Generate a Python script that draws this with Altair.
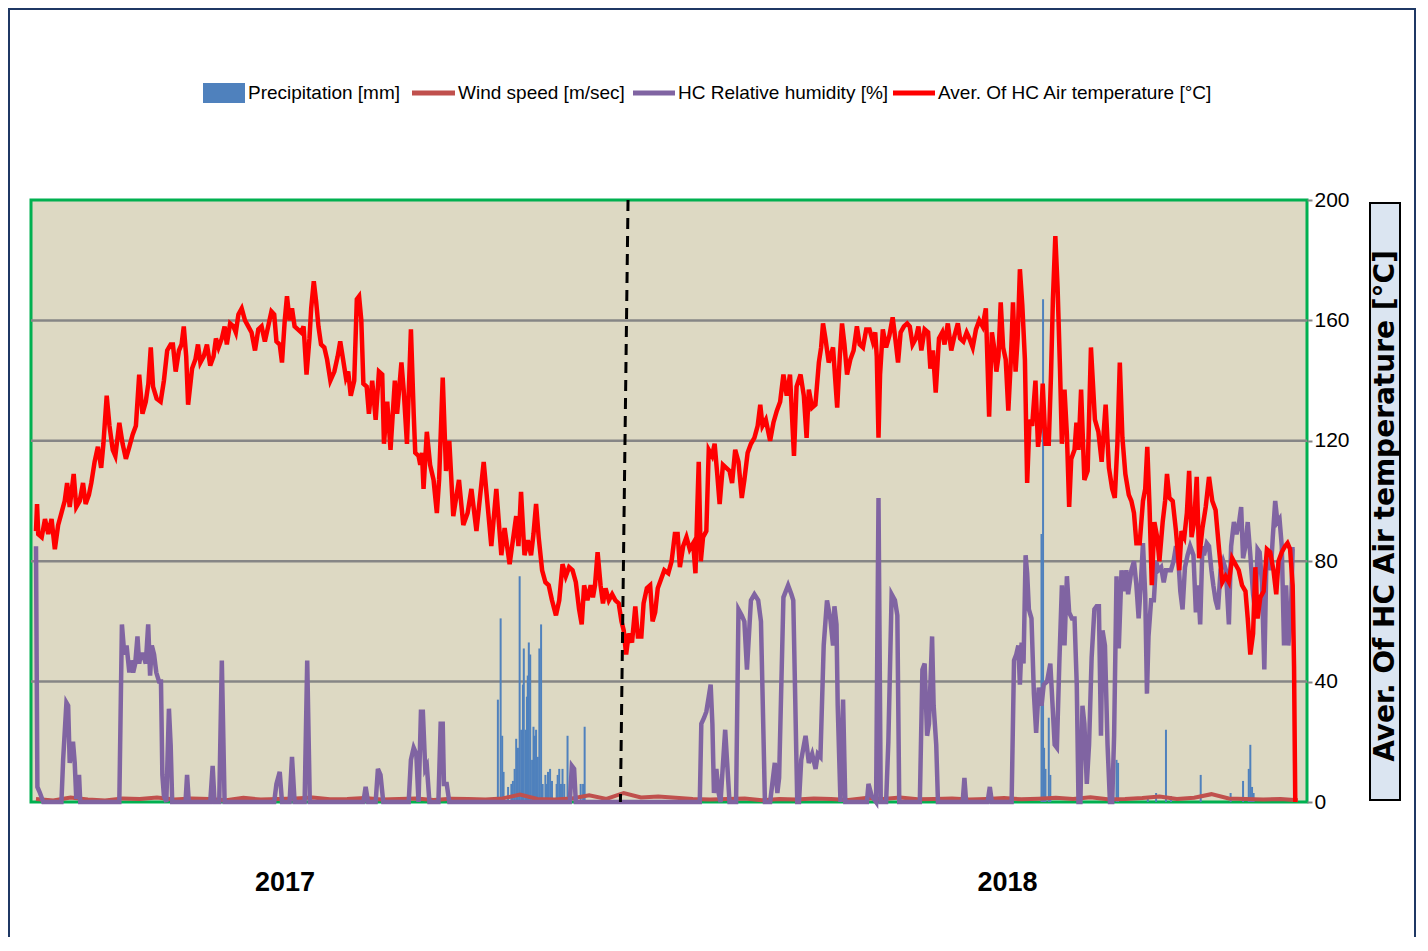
import altair as alt
import pandas as pd

# ---------------- data (day index 0..730) ----------------
temp_day = [0, 0.6, 1.3, 3.3, 5.2, 7.1, 9, 10.9, 12.8, 14.7, 16.6, 18, 19.5, 21.8, 23.3, 25.3, 27.2, 28.7, 30.6, 32,
            33.9, 35.8, 37.7, 39, 40.9, 42.5, 44.4, 45.9, 48.2, 50.1, 52, 54, 55.9, 57.8, 59.7, 61.6, 63.5, 65, 66.4, 67.7,
            69.8, 72.1, 74, 75.9, 77.9, 79.2, 80.8, 82.7, 84.2, 85.5, 86.9, 88, 90.3, 92.2, 93.7,
            95.1, 97, 98.9, 100.8, 102.7, 104.1, 105.6, 107.5, 109.1, 110.4, 112.3, 114.2, 115.6, 117.1, 119, 120.9, 122.8,
            124.7, 126.7, 128.6, 130.5, 132.4, 134.3, 136.2, 137.8, 139.1, 141, 142.3, 143.9, 145.2, 146.7, 148.1, 149.6,
            151.5, 153.4, 154.8, 156.5, 158.2, 159.2, 160.7, 162.1, 163.4, 164.9, 166.8, 168.4, 170.3, 172.6, 174.5, 176,
            177.4, 179.3, 180.6, 182.1, 184.1, 185.6,
            186.9, 188.2, 189.4, 191.3, 192.6, 194.5, 196.5, 198.4, 200.3, 201.3, 203.2, 205.1, 207.6, 208.9, 211.4, 212.7,
            214.6, 216.9, 218.5, 219.4, 221.3, 222.3, 223.3, 224.2, 226.1, 228, 230, 231.9, 233.2, 235.3, 237.2, 239.1,
            241.4, 244.7, 247.2, 249.7, 251.9, 254.8, 259, 263.4, 266.3, 269.2, 271.1, 274, 277.8, 279.1, 280.6, 282.6,
            284.5, 286.4, 287.8, 289.3, 290.8, 292.8, 294.7, 296.6, 298.5, 300.8, 302.7, 304.6,
            306.5, 308.4, 310.4, 312.3, 314.2, 315.7, 317.1, 319, 320.9, 322.2, 323.4, 324.9, 326.6, 328, 329.5, 331.4,
            333.3, 335.2, 337.1, 338.7, 340, 341.4, 342.9, 344.8, 346.7, 348.2, 350.2, 351.5, 353.4, 355.3, 356.7, 358.2,
            359.7, 361.6, 363.5, 365.8,
            367.7, 369.6, 371.2, 372.5, 374.4, 376.3, 378.2, 380.2, 381.5, 382.6, 383.4, 384.6, 385.9, 387.8, 389.2, 391.1,
            392.6, 394.1, 395.5, 397.4, 399.3, 401.2, 402.7, 404.5, 406.4, 408.3, 409.8, 411.7, 413.6, 415.6, 417.5, 419,
            420.3, 422.2, 424.7, 426.6, 428.6, 430.5, 432.4, 434.3, 436.2, 438.5, 440, 442.3, 444.2, 445.8, 447.1, 449,
            450.9, 452.9, 454.2, 455.3, 456.7, 458.6, 461.1,
            463.5, 465, 466.3, 467.7, 469.2, 471.1, 473, 474.9, 476.5, 478.4, 480.3, 482.2, 484.1, 485.5, 486.4, 487.4,
            488.3, 489.9, 491.8, 493.7, 495.6, 497.1, 498.7, 500.2, 502.1, 504, 505.5, 507.1, 509, 510.5, 512.2, 514.1,
            516.1, 517.4, 518.9, 520.5, 522.4, 524.3, 525.6, 527.5, 529.5, 531.4, 533.3, 534.6, 536.5, 538.4, 540, 541.9,
            543.8, 545.7, 547.6, 549.5,
            551.4, 553, 554.3, 555.6, 556.8, 558.1, 559.5, 561, 562.5, 563.9, 565.2, 566.7, 567.9, 569.2, 570.6, 572.1,
            573.4, 574.8, 576.3, 578.2, 579.7, 581.3, 582.4, 584, 585.9, 587.2, 588.3, 589.7, 591, 592.4, 593.5, 595,
            596.4, 597.7, 598.9, 600.8, 601.9, 603.1, 604.6, 606.5, 608.4, 610.3, 612.6, 614.6, 616.5, 618.8, 620.7, 622.6,
            624.1, 625.6, 627, 628.5, 630.2, 632.2, 633.7, 635.2, 636.6, 638.5, 640.4, 641.7, 642.9,
            644.2, 645.5, 647, 648.6, 649.9, 651.8, 653.2, 654.3, 655.7, 657.6, 659.5, 661.4, 662.7, 664.3, 665.8, 667.1,
            668.5, 670, 671.5, 672.9, 674.8, 676.7, 678.6, 680.5, 682.4, 684.4, 686.3, 688.2, 690.1, 692, 693.9, 695.8,
            697.7, 699.7, 701, 702.5, 704.1, 705.4, 706.7, 708.3, 710.2, 712.1, 714, 715.9, 717.5, 718.8, 720.7, 722.6,
            724, 725.5, 727, 727.8, 728.5]
temp_val = [90, 99, 89, 88, 94, 89, 94, 84, 92, 96, 100, 106, 98, 109, 98, 100, 106, 99, 102, 106,
            113, 118, 111, 119, 135, 125, 117, 115, 126, 119, 114, 118, 122, 125, 142, 129, 133, 139, 151, 138,
            134, 133, 140, 150, 152, 152, 143, 150, 152, 158, 148, 132, 144, 147, 152,
            146, 148, 152, 145, 148, 154, 151, 154, 158, 152, 159, 158, 156, 162, 164, 160, 158,
            156, 150, 157, 158, 153, 158, 163, 162, 153, 152, 146, 160, 168, 160, 164, 158,
            157, 156, 158, 142, 154, 164, 173, 166, 158, 152, 151, 147, 140, 143, 148, 153,
            148, 141, 143, 135, 140, 167,
            168, 160, 139, 138, 129, 140, 127, 143, 142, 119, 133, 117, 140, 129, 146, 137,
            119, 157, 129, 116, 115, 112, 116, 104, 123, 112, 107, 96, 107, 141, 110, 120,
            95, 107, 92, 96, 104, 90, 113, 85, 104, 82, 91, 79, 95, 85, 103, 82,
            87, 82, 89, 99, 88, 77, 73, 72, 67, 62, 67, 79,
            75, 78, 77, 73, 64, 59, 72, 67, 72, 68, 72, 83, 72, 66, 71, 67,
            69, 67, 66, 60, 57, 49, 56, 53, 65, 55, 55, 66, 71, 72, 60, 63,
            71, 74, 77, 76,
            80, 89, 89, 78, 85, 88, 84, 86, 76, 98, 113, 80, 88, 90, 117, 115,
            119, 109, 99, 112, 111, 110, 106, 117, 113, 101, 107, 116, 119, 121, 125, 132,
            125, 127, 120, 126, 130, 133, 142, 135, 142, 115, 138, 142, 135, 121, 137, 131,
            132, 146, 151, 159, 154, 146, 151,
            131, 148, 159, 152, 142, 147, 150, 158, 152, 151, 157, 157, 153, 156, 148, 121,
            142, 157, 151, 155, 161, 154, 146, 156, 158, 159, 158, 152, 154, 158, 150, 157,
            156, 144, 150, 136, 154, 156, 152, 159, 150, 155, 159, 154, 153, 156, 154, 151,
            157, 160, 158, 164,
            128, 156, 151, 143, 148, 166, 151, 147, 130, 146, 166, 143, 154, 177, 165, 147,
            106, 127, 125, 140, 118, 126, 139, 119, 119, 142, 167, 188, 171, 144, 119, 137,
            122, 98, 114, 117, 126, 117, 137, 107, 110, 151, 127, 123, 113, 132, 111, 104,
            101, 119, 146, 121, 109, 102, 100, 96, 86, 86, 100, 104, 118,
            98, 72, 93, 88, 80, 93, 100, 109, 101, 100, 90, 77, 90, 88, 96, 110,
            88, 93, 108, 81, 91, 98, 108, 100, 97, 84, 73, 75, 73, 81, 79, 77,
            72, 70, 61, 49, 56, 78, 61, 68, 70, 84, 83, 77, 69, 80, 83, 85,
            86, 84, 72, 45, 0]

hum_day = [0, 0.8, 2.3, 4.2, 14.7, 15.7, 17.6, 18.6, 19.5, 21.4, 22.4, 23.3, 24.9, 25.6, 48.2, 49.7, 51.1, 52.4, 54,
           54.9, 56.2, 57.4, 58.7, 59.7, 60.6, 62, 63.5, 64.9, 66, 67, 68.3, 69.6, 71.2, 72.3, 73.1, 74, 75.4, 76.9,
           77.9, 78.8, 86.5, 87.4, 88.4, 100.8, 102.2, 103.3, 106, 107.5, 109.1, 137.8, 139.1, 141, 142.3, 146.7, 148.1,
           149.6, 155.4, 156.9, 158.4, 189.4, 190.7, 192.1, 196.5, 197.8, 199.3, 200.9, 215.6, 216.9, 218.5, 220, 221.3,
           222.7, 223.8, 225.2, 226.1, 227.6, 232.8, 234.1, 235.3, 236, 237.6, 239.1, 308.8, 310, 311.3, 312.3,
           384, 384.9, 386.5, 387.8, 389.2, 390.3, 391.3, 392.2, 393.6, 394.9, 396, 398.7, 401.2, 405, 406.4, 408.3,
           409.8, 411.3, 413.6, 415.6, 417.8, 419.4, 421.7, 424.7, 427.4, 428.9, 429.9, 432.4, 435.1, 437, 438.1, 440.4,
           441.4, 442.7, 445.2, 447.1, 449, 451, 452.3, 453.8, 455.7, 457.6, 459.5, 461.1, 461.9, 463.1, 463.8, 465.4,
           466.9, 468.2, 480.7, 481.6, 483.5, 486, 487.4, 488.7, 491.8, 493.1, 495, 496.9, 498.3, 499.4, 511.3, 512.8,
           514.1, 515.5, 516.6, 518.4, 519.3, 520.8, 521.8, 536.1, 537.1, 538.1, 550.5, 551.8, 553, 564.4,
           565.8, 567.1, 568.3, 569.2, 570.2, 571.3, 572.5, 573.4, 574.4, 575.9, 577.3, 578.6, 580.1, 581.7, 583, 584.9,
           586.8, 588.2, 589.3, 590.6, 592, 593.5, 595, 596.4, 597.7, 599.3, 600.8, 602.1, 603.1, 604.2, 605.4, 606.5,
           607.9, 609.2, 610.7, 612.3, 613.6, 614.9, 616.1, 617, 618.4, 619.9, 621.3, 622.6, 623.7, 625.1, 626.4, 628,
           629.5, 630.8, 631.8, 633.7, 635.2, 636.6, 637.9, 639.1, 640.4, 641.7, 642.7,
           643.6, 645.1, 646.7, 648, 649.3, 650.9, 652.4, 653.7, 655.1, 656.6, 658.1, 659.5, 660.8, 662, 663.3, 664.7,
           666.2, 667.7, 669.6, 671, 672.3, 673.5, 674.8, 675.7, 677.3, 678.6, 680, 681.1, 682.4, 683.8, 685.3, 686.8,
           688.4, 690.1, 691.4, 693, 694.5, 695.8, 697.2, 698.3, 699.7, 701, 702.5, 704.1, 705.4, 706.7, 707.9, 709.2,
           710.6, 711.7, 713, 714.4, 715.5, 716.9, 718.2, 719.4, 720.7, 722, 723.2, 724.5, 725.9, 727, 728.2]
hum_val = [85, 5, 3, 0, 0, 14, 33, 32, 13, 20, 13, 1, 9, 0, 0, 59, 49, 52, 43,
           47, 43, 46, 55, 46, 49, 49, 46, 59, 42, 52, 49, 43, 40, 40, 9, 2, 0, 31,
           19, 0, 0, 9, 0, 0, 12, 0, 0, 47, 0, 0, 6, 10, 0, 0, 15,
           0, 0, 47, 0, 0, 5, 0, 0, 11, 9, 0, 0, 14, 18, 16, 0,
           30, 30, 11, 12, 0, 0, 26, 26, 6, 6, 0, 0, 12, 11, 0,
           0, 26, 28, 30, 35, 39, 26, 3, 11, 3, 0, 24, 0, 0, 64, 62,
           60, 44, 67, 69, 67, 60, 0, 0, 13, 3, 8, 68, 72, 69, 67, 0,
           0, 14, 22, 13, 16, 11, 16, 15, 52, 67, 61, 52, 65, 59, 32, 0,
           34, 0, 0, 6, 2, 0, 101, 0, 0, 20, 69, 67, 62, 0, 0, 44,
           46, 22, 26, 55, 32, 19, 0, 0, 8, 0, 0, 5, 0, 0,
           47, 49, 52, 39, 53, 46, 82, 76, 64, 61, 36, 23, 38, 32, 39, 40,
           46, 31, 19, 18, 46, 72, 52, 75, 63, 61, 61, 39, 0, 0, 32, 26,
           6, 19, 48, 64, 65, 65, 22, 57, 52, 19, 0, 0, 22, 75, 51, 77,
           70, 77, 69, 77, 80, 72, 61, 72, 86, 69, 36,
           55, 67, 67, 80, 77, 78, 73, 77, 77, 77, 80, 85, 81, 70, 64, 78,
           82, 85, 82, 63, 72, 59, 85, 82, 86, 85, 77, 72, 67, 64, 77, 80,
           77, 59, 85, 93, 89, 92, 98, 81, 85, 93, 82, 69, 63, 84, 83, 73,
           44, 77, 83, 77, 88, 100, 93, 94, 85, 52, 72, 52, 61, 84, 84]

precip_day = [267.2, 268.8, 269.7, 270.5, 273.1, 275.0, 275.9, 276.9, 277.8, 278.8, 279.8, 280.7, 281.7, 282.2,
              283.2, 284.0, 284.5, 285.1, 285.9, 287.0, 287.8, 288.6, 289.3, 290.3, 291.2, 292.2, 293.1, 294.7,
              295.4, 296.2, 297.4, 298.5, 301.2, 301.8, 302.7, 303.7, 304.6, 305.6, 307.5, 315.1, 316.5, 317.4,
              581.7, 582.6, 583.2, 584.0, 585.9, 586.8, 625.1, 626.0, 643.2, 648.0, 653.7, 656.6, 673.8, 691.1,
              698.3, 701.6, 702.5, 703.5, 704.4]
precip_val = [34, 61, 22, 10, 5, 6, 7, 11, 21, 18, 75, 24, 39, 51,
              24, 35, 42, 53, 49, 14, 25, 22, 24, 15, 51, 59, 6, 9,
              6, 10, 11, 7, 6, 9, 11, 6, 11, 6, 22, 6, 6, 25,
              89, 167, 18, 11, 28, 9, 14, 13, 2, 3, 24, 2, 9, 3,
              7, 11, 19, 5, 3]

wind_day = list(range(0, 731, 10))
wind_val = [1.0, 0.5, 1.5, 0.8, 0.5, 1.2, 1.0, 1.5, 0.8, 1.2, 1.0, 0.6, 1.4, 0.8, 1.0, 1.2, 1.5, 0.9, 1.0, 1.3,
            0.8, 1.0, 1.2, 0.7, 1.1, 1.0, 0.8, 1.2, 2.5, 1.0, 0.8, 1.2, 2.2, 1.0, 3.0, 1.5, 1.8, 1.4, 1.0, 0.8,
            1.0, 1.2, 0.6, 1.0, 0.8, 1.2, 1.0, 0.7, 1.3, 1.0, 1.5, 0.9, 1.0, 1.2, 0.8, 1.0, 1.3, 0.9, 1.1, 1.4,
            1.0, 1.6, 0.9, 1.0, 1.3, 1.8, 1.0, 1.4, 2.6, 1.2, 1.0, 0.8, 1.0, 0.6]

grid_vals = [40, 80, 120, 160]
y_ticks = [0, 40, 80, 120, 160, 200]
year_labels = ["2017", "2018"]
year_days = [144, 562]
boundary = {"day": [342.5], "day2": [338.1], "value": [200], "value2": [0]}

legend_labels = ["Precipitation [mm]", "Wind speed [m/sec]", "HC Relative humidity [%]",
                 "Aver. Of HC Air temperature [°C]"]
axis_title = "Aver. Of HC Air temperature [°C]"

# ---------------- frames ----------------
temp_df = pd.DataFrame({"day": temp_day, "value": temp_val})
hum_df = pd.DataFrame({"day": hum_day, "value": hum_val})
wind_df = pd.DataFrame({"day": wind_day, "value": wind_val})
precip_df = pd.DataFrame({"day": precip_day, "value": precip_val})
grid_df = pd.DataFrame({"value": grid_vals})
year_df = pd.DataFrame({"day": year_days, "label": year_labels})
bound_df = pd.DataFrame(boundary)
one = pd.DataFrame({"k": [0]})

FONT = "Liberation Sans, Arial, sans-serif"

xs = alt.Scale(domain=[0, 732.4], nice=False, zero=False)
ys = alt.Scale(domain=[0, 200], nice=False)
yaxis = alt.Axis(orient="right", values=y_ticks, grid=False, domain=False, tickColor="#868686",
                 tickSize=5, tickWidth=2, labelFont=FONT, labelFontSize=21, labelColor="black",
                 labelPadding=2, title=None)
X = alt.X("day:Q", scale=xs, axis=None)
Y = alt.Y("value:Q", scale=ys, axis=yaxis)

grid = alt.Chart(grid_df).mark_rule(color="#868686", strokeWidth=2.5).encode(y=Y)
bars = alt.Chart(precip_df).mark_bar(width=2, color="#4f81bd").encode(x=X, y=Y)
wind = alt.Chart(wind_df).mark_line(color="#c0504d", strokeWidth=4).encode(x=X, y=Y)
hum = alt.Chart(hum_df).mark_line(color="#8064a2", strokeWidth=4.5).encode(x=X, y=Y)
temp = alt.Chart(temp_df).mark_line(color="#ff0000", strokeWidth=4.5).encode(x=X, y=Y)
bound = alt.Chart(bound_df).mark_rule(color="black", strokeWidth=3, strokeDash=[11, 7]).encode(
    x=X, x2="day2:Q", y=Y, y2="value2:Q")
years = alt.Chart(year_df).mark_text(font=FONT, fontSize=27, fontWeight="bold", color="black",
                                     baseline="middle", align="center").encode(
    x=X, y=alt.value(683), text="label:N")

# manual legend
lg_y = -107
leg = [
    alt.Chart(one).mark_rect(color="#4f81bd").encode(x=alt.value(172), x2=alt.value(214),
                                                     y=alt.value(lg_y - 10), y2=alt.value(lg_y + 10)),
    alt.Chart(one).mark_rule(color="#c0504d", strokeWidth=5).encode(x=alt.value(381), x2=alt.value(424), y=alt.value(lg_y)),
    alt.Chart(one).mark_rule(color="#8064a2", strokeWidth=5).encode(x=alt.value(602), x2=alt.value(644), y=alt.value(lg_y)),
    alt.Chart(one).mark_rule(color="#ff0000", strokeWidth=5).encode(x=alt.value(862), x2=alt.value(904), y=alt.value(lg_y)),
]
for xpos, lab in zip([217, 427, 647, 907], legend_labels):
    leg.append(alt.Chart(one).mark_text(text=lab, font=FONT, fontSize=19, color="black", align="left",
                                        baseline="middle").encode(x=alt.value(xpos), y=alt.value(lg_y)))

title_box = alt.Chart(one).mark_rect(fill="#dbe5f1", stroke="black", strokeWidth=2).encode(
    x=alt.value(1339), x2=alt.value(1369), y=alt.value(3), y2=alt.value(600))
title_txt = alt.Chart(one).mark_text(text=axis_title, font="DejaVu Sans", fontSize=28, fontWeight="bold",
                                     angle=270, color="black", align="center", baseline="middle").encode(
    x=alt.value(1355), y=alt.value(306))
border = alt.Chart(one).mark_rect(filled=False, stroke="#1f3864", strokeWidth=2).encode(
    x=alt.value(-22), x2=alt.value(1384), y=alt.value(-191), y2=alt.value(760))

chart = alt.layer(grid, bars, wind, hum, temp, bound, years, *leg, title_box, title_txt, border).properties(
    width=1276, height=602, autosize=alt.AutoSizeParams(type="none"),
    padding={"left": 23, "top": 192, "right": 110, "bottom": 135},
    background="white",
).configure_view(stroke="#00b050", strokeWidth=3, fill="#ddd9c3")

chart.save("out.html", embed_options={"renderer": "svg", "actions": False})
